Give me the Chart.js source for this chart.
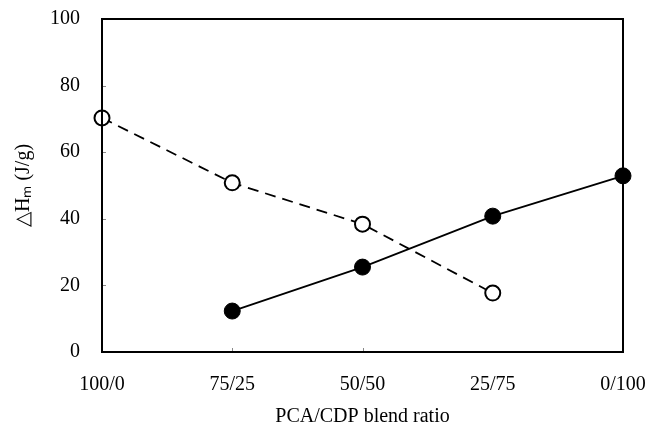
<!DOCTYPE html>
<html>
<head>
<meta charset="utf-8">
<script src="https://cdn.jsdelivr.net/npm/chart.js@4/dist/chart.umd.min.js"></script>
<style>
html,body{margin:0;padding:0;background:#fff;}
#wrap{width:647px;height:433px;}
</style>
</head>
<body>
<div id="wrap"><canvas id="c" width="647" height="433"></canvas></div>
<script>
const categories = ["100/0", "75/25", "50/50", "25/75", "0/100"];
const openSeries = [70.3, 50.8, 38.4, 17.7, null];
const filledSeries = [null, 12.3, 25.5, 40.8, 52.9];
const yTicks = [0, 20, 40, 60, 80, 100];
const xTitle = "PCA/CDP blend ratio";
const yTitle = "\u25B3H\u2098 (J/g)";

const FONT = "'Liberation Serif', 'Times New Roman', serif";

const boxPlugin = {
  id: 'box',
  afterDraw(chart) {
    const {ctx, chartArea: a} = chart;
    const ys = chart.scales.y, xs = chart.scales.x;
    ctx.save();
    ctx.strokeStyle = '#888';
    ctx.lineWidth = 1;
    ys.ticks.forEach(t => {
      if (t.value === 0 || t.value === 100) return;
      const py = Math.round(ys.getPixelForValue(t.value)) + 0.5;
      ctx.beginPath(); ctx.moveTo(a.left, py); ctx.lineTo(a.left + 4, py); ctx.stroke();
    });
    [1, 2].forEach(i => {
      const px = Math.round(xs.getPixelForValue(i)) + 0.5;
      ctx.beginPath(); ctx.moveTo(px, a.bottom); ctx.lineTo(px, a.bottom - 4); ctx.stroke();
    });
    ctx.strokeStyle = '#000';
    ctx.lineWidth = 2;
    ctx.strokeRect(a.left, a.top, a.right - a.left, a.bottom - a.top);
    ctx.restore();
  }
};

new Chart(document.getElementById('c'), {
  type: 'line',
  data: {
    labels: categories,
    datasets: [
      {
        data: openSeries,
        borderColor: '#000',
        borderWidth: 1.8,
        borderDash: [11, 7],
        pointRadius: 7.5,
        pointBorderWidth: 2,
        pointBackgroundColor: '#fff',
        pointBorderColor: '#000',
        fill: false,
        tension: 0,
        spanGaps: false
      },
      {
        data: filledSeries,
        borderColor: '#000',
        borderWidth: 1.8,
        pointRadius: 8,
        pointBorderWidth: 1,
        pointBackgroundColor: '#000',
        pointBorderColor: '#000',
        fill: false,
        tension: 0
      }
    ]
  },
  options: {
    responsive: false,
    animation: false,
    devicePixelRatio: 1,
    layout: { padding: { left: 0, right: 24, top: 19, bottom: 0 } },
    plugins: { legend: { display: false }, tooltip: { enabled: false } },
    scales: {
      x: {
        type: 'category',
        offset: false,
        grid: { display: false, drawTicks: false },
        border: { display: false },
        ticks: { color: '#000', font: { family: FONT, size: 20 }, padding: 21, maxRotation: 0, autoSkip: false },
        title: { display: true, text: xTitle, color: '#000', font: { family: FONT, size: 20 }, padding: { top: 15 } },
        afterFit(s) { s.height = 81; s.paddingLeft = 0; s.paddingRight = 0; }
      },
      y: {
        min: 0, max: 100,
        afterBuildTicks(s) { s.ticks = yTicks.map(v => ({ value: v })); },
        grid: { display: false, drawTicks: false },
        border: { display: false },
        ticks: { color: '#000', font: { family: FONT, size: 20 }, padding: 22 },
        title: { display: true, text: yTitle, color: '#000', font: { family: FONT, size: 20 }, padding: { top: 12 } },
        afterFit(s) { s.width = 102; s.paddingTop = 0; s.paddingBottom = 0; }
      }
    }
  },
  plugins: [boxPlugin]
});
</script>
</body>
</html>
